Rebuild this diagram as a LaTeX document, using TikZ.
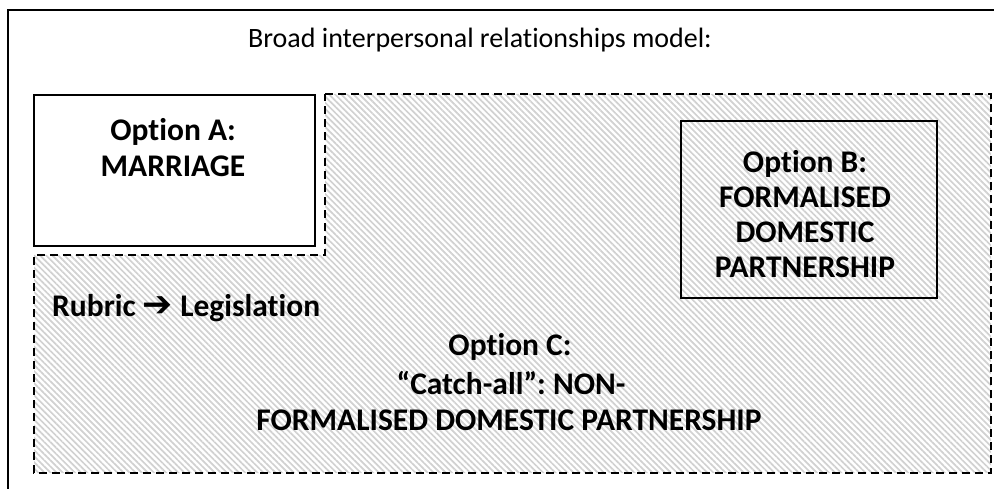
\documentclass[tikz,border=0pt]{standalone}
\usepackage{fontspec}
\setmainfont[Ligatures={NoCommon}]{Carlito}
\newfontfamily\symfont{DejaVu Sans}
\usetikzlibrary{patterns.meta}
\frenchspacing
\tikzset{
  frameline/.style={draw=black, line width=2pt},
  optbox/.style={draw=black, line width=1.8pt, rectangle, inner sep=0pt},
  hatchzone/.style={draw=black, line width=1.5pt, dash pattern=on 8pt off 5pt,
    pattern={Lines[angle=-45, distance=4.3pt, line width=1.7pt]}, pattern color=black!18},
  headtxt/.style={font=\fontsize{28}{34}\selectfont, align=center, inner sep=0pt},
  bodytxt/.style={font=\fontsize{31.5}{36}\selectfont\bfseries, align=center, inner sep=0pt},
}
\begin{document}
\begin{tikzpicture}[x=1pt, y=-1pt]
  \useasboundingbox (0,0) rectangle (994,489);
  % open outer frame: top and left edges only
  \draw[frameline] (8,489) -- (8,10) -- (994,10);
  \node[headtxt] (title) at (480,40) {Broad interpersonal relationships model:};

  % L-shaped catch-all region
  \path[hatchzone] (325,94) -- (991,94) -- (991,473) -- (34,473) -- (34,255) -- (325,255) -- cycle;

  % Option A
  \node[optbox, fill=white, minimum width=281pt, minimum height=151pt] (optA) at (174.5,170.5) {};
  \node[bodytxt] (optAtext) at (173,148) {Option A:\\MARRIAGE};

  % Option B
  \node[optbox, line width=1.5pt, minimum width=256pt, minimum height=177pt] (optB) at (809,209.5) {};
  \node[bodytxt, font=\fontsize{31.5}{35}\selectfont\bfseries] (optBtext) at (805,214) {Option B:\\FORMALISED\\DOMESTIC\\PARTNERSHIP};

  % Rubric and Option C
  \node[bodytxt, anchor=west] (rubric) at (52,308) {Rubric {\symfont\bfseries\fontsize{36}{36}\selectfont ➔} Legislation};
  \node[bodytxt] (optC1) at (510,347) {Option C:};
  \node[bodytxt] (optC2) at (511,383) {“Catch-all”: NON-};
  \node[bodytxt] (optC3) at (509,420) {FORMALISED DOMESTIC PARTNERSHIP};
\end{tikzpicture}
\end{document}
